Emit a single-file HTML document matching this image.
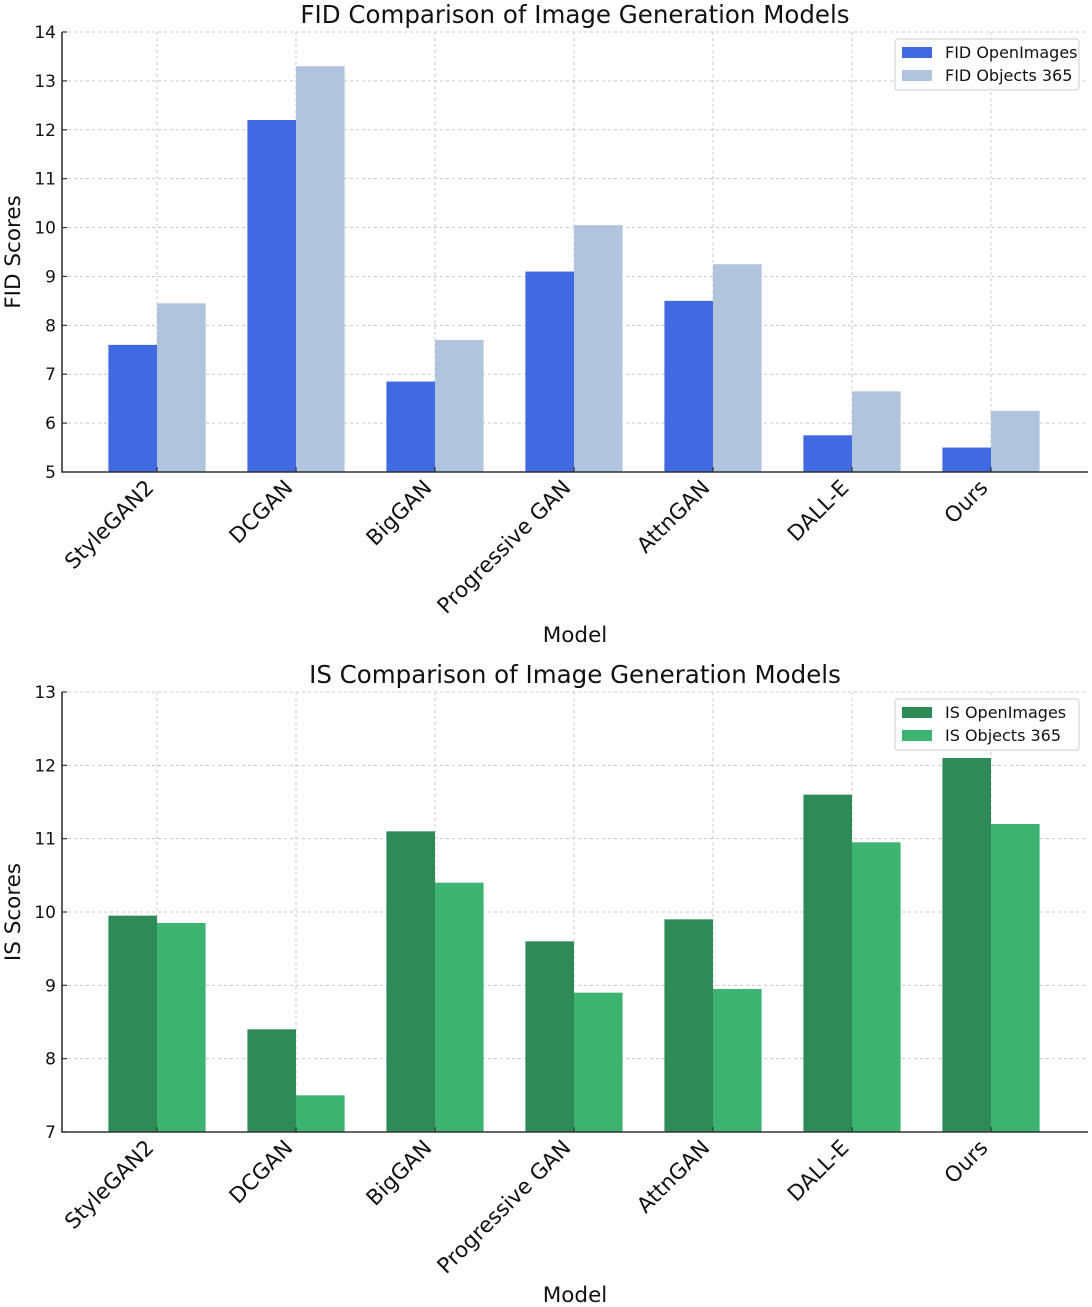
<!DOCTYPE html>
<html><head><meta charset="utf-8"><style>
body{margin:0;background:#fff}
svg{display:block;font-family:"DejaVu Sans","Liberation Sans",sans-serif}
</style></head><body>
<svg id="chart" width="1092" height="1307" viewBox="0 0 1092 1307"></svg>
<script>
const categories = ["StyleGAN2","DCGAN","BigGAN","Progressive GAN","AttnGAN","DALL-E","Ours"];
const fidOpen = [7.6,12.2,6.85,9.1,8.5,5.75,5.5];
const fidObj = [8.45,13.3,7.7,10.05,9.25,6.65,6.25];
const isOpen = [9.95,8.4,11.1,9.6,9.9,11.6,12.1];
const isObj = [9.85,7.5,10.4,8.9,8.95,10.95,11.2];
const fidTicks = [5,6,7,8,9,10,11,12,13,14];
const isTicks = [7,8,9,10,11,12,13];

const svg = document.getElementById('chart');
const NS = 'http://www.w3.org/2000/svg';
function mk(tag, attrs, parent){
  const e = document.createElementNS(NS, tag);
  for (const k in attrs) e.setAttribute(k, attrs[k]);
  (parent||svg).appendChild(e);
  return e;
}
function panel(cfg){
  const g = mk('g', {});
  
  
  const L=62, R=1088, T=cfg.top, B=cfg.top+440;
  const x = i => 157 + i*139;
  const y = v => B - (v - cfg.ymin)/(cfg.ymax - cfg.ymin)*(B-T);
  const bw = 48.6;
  cfg.ticks.forEach(t=>{
    const ln = mk('line',{x1:L,x2:R,y1:y(t),y2:y(t),stroke:'#c8c8c8','stroke-dasharray':'3,3','stroke-width':1},g);
    
    
    const tk = mk('line',{x1:L,x2:L+5,y1:y(t),y2:y(t),stroke:'#333','stroke-width':1.2},g);
    
    
    const tx = mk('text',{x:L-6,y:y(t)+6,'text-anchor':'end','font-size':17,fill:'#111'},g);
    tx.textContent = t;
    
    
  });
  categories.forEach((c,i)=>{
    const ln = mk('line',{x1:x(i),x2:x(i),y1:T,y2:B,stroke:'#c8c8c8','stroke-dasharray':'3,3','stroke-width':1},g);
    
    
  });
  categories.forEach((c,i)=>{
    const b1 = mk('rect',{x:x(i)-bw,y:y(cfg.s1[i]),width:bw,height:B-y(cfg.s1[i]),fill:cfg.c1},g);
    
    
    const b2 = mk('rect',{x:x(i),y:y(cfg.s2[i]),width:bw,height:B-y(cfg.s2[i]),fill:cfg.c2},g);
    
    
    const tk = mk('line',{x1:x(i),x2:x(i),y1:B,y2:B-5,stroke:'#333','stroke-width':1.2},g);
    
    
    const tx = mk('text',{x:x(i)-2,y:B+17,'text-anchor':'end','font-size':21.5,fill:'#111',transform:`rotate(-45 ${x(i)-2} ${B+17})`},g);
    tx.textContent = c;
    
    
  });
  const ax = mk('path',{d:`M${L},${T} V${B} H${R}`,fill:'none',stroke:'#333','stroke-width':1.6},g);
  
  
  const ti = mk('text',{x:575,y:T-9,'text-anchor':'middle','font-size':24.5,fill:'#111'},g);
  ti.textContent = cfg.title;
  
  
  const xl = mk('text',{x:575,y:B+170,'text-anchor':'middle','font-size':21.5,fill:'#111'},g);
  xl.textContent = 'Model';
  
  
  const yl = mk('text',{x:20,y:(T+B)/2,'text-anchor':'middle','font-size':21.5,fill:'#111',transform:`rotate(-90 20 ${(T+B)/2})`},g);
  yl.textContent = cfg.ylabel;
  
  
  const lg = mk('g',{},g);
  
  
  mk('rect',{x:895,y:T+7,width:184,height:51,rx:3,fill:'#fff','fill-opacity':0.85,stroke:'#ccc'},lg);
  [[cfg.c1,cfg.l1],[cfg.c2,cfg.l2]].forEach((p,k)=>{
    mk('rect',{x:902,y:T+15+k*23,width:30,height:11,fill:p[0]},lg);
    const t = mk('text',{x:945,y:T+26+k*23,'font-size':16,fill:'#111'},lg);
    t.textContent = p[1];
    
    
  });
}
panel({name:'fid-chart',key:'fid',top:32,ymin:5,ymax:14,ticks:fidTicks,s1:fidOpen,s2:fidObj,c1:'#4169E1',c2:'#B0C4DE',l1:'FID OpenImages',l2:'FID Objects 365',title:'FID Comparison of Image Generation Models',ylabel:'FID Scores'});
panel({name:'is-chart',key:'is',top:692,ymin:7,ymax:13,ticks:isTicks,s1:isOpen,s2:isObj,c1:'#2E8B57',c2:'#3CB371',l1:'IS OpenImages',l2:'IS Objects 365',title:'IS Comparison of Image Generation Models',ylabel:'IS Scores'});
</script>
</body></html>
